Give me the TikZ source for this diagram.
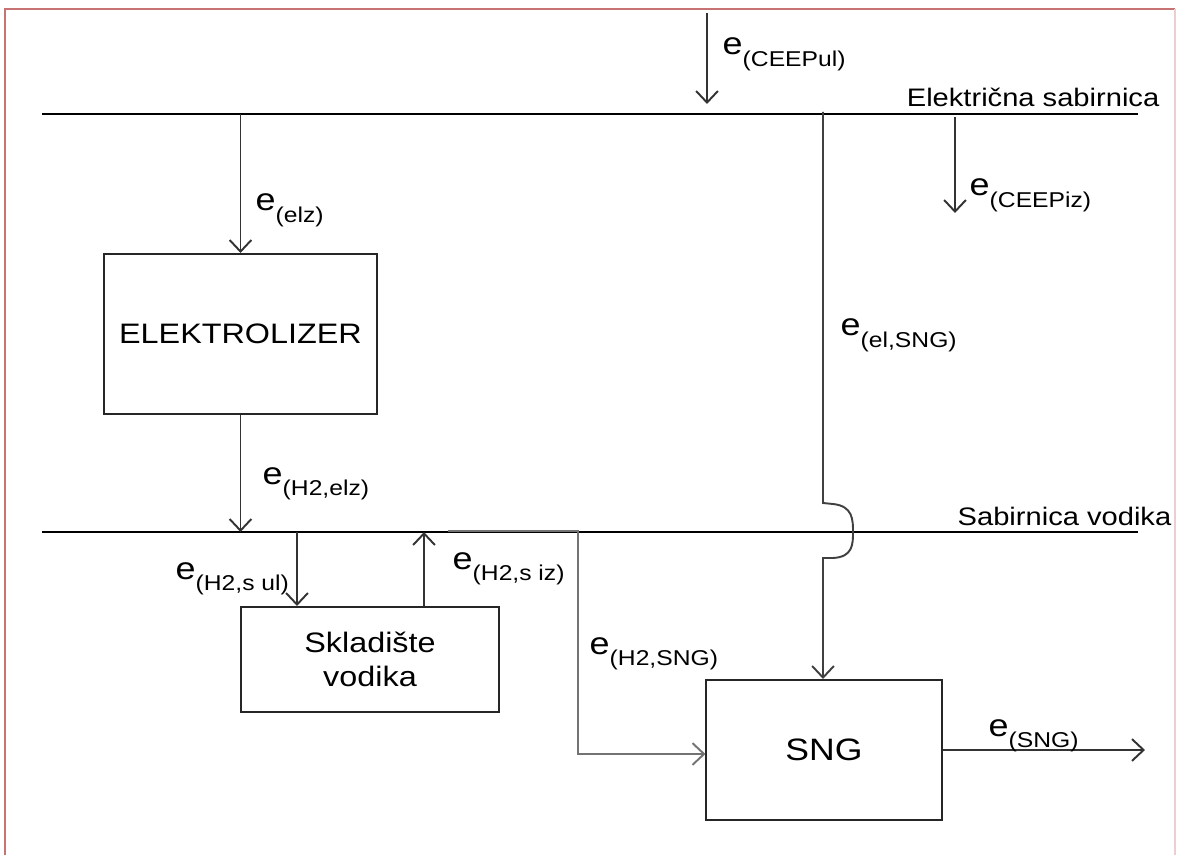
\documentclass[tikz,border=0pt]{standalone}
\usepackage{fontspec}
\setmainfont[FakeStretch=1.15]{Liberation Sans}
\usetikzlibrary{arrows.meta}
\definecolor{framered}{RGB}{200,115,115}
\newcommand{\flow}[1]{{\fontsize{8.9}{10}\selectfont e}\raisebox{-3.3pt}{\fontsize{6.1}{7}\selectfont(#1)}}

\begin{document}
\begin{tikzpicture}[
    x=0.01cm, y=-0.01cm,
    box/.style={draw=black!85, line width=0.55pt, inner sep=0pt, align=center, font=\fontsize{8}{9.6}\selectfont},
    bus/.style={line width=0.8pt},
    arr/.style={-{Straight Barb[length=3.3pt,width=6.2pt]}, line width=0.55pt, draw=black!80},
    lbl/.style={anchor=base west, inner sep=0pt},
    buslbl/.style={anchor=base east, inner sep=0pt, font=\fontsize{7.2}{8}\selectfont}
]
\useasboundingbox (0,0) rectangle (1179,855);
\draw[framered, line width=0.5pt] (5,855) -- (5,9) -- (1175,9);
\draw[framered!35, line width=0.5pt] (1175,9) -- (1175,855);

% sabirnice
\coordinate (el1) at (42,114);
\coordinate (el2) at (1138,114);
\coordinate (h1) at (42,532);
\coordinate (h2) at (1138,532);
\draw[bus] (el1) -- (el2);
\draw[bus] (h1) -- (h2);
\node[buslbl] (elbus) at (1160,107) {Električna sabirnica};
\node[buslbl] (hbus) at (1172,525) {Sabirnica vodika};

% blokovi
\node[box, minimum width=2.73cm, minimum height=1.60cm] (elz) at (240.5,334) {ELEKTROLIZER};
\node[box, minimum width=2.58cm, minimum height=1.05cm] (skl) at (370,659.5) {Skladište\\vodika};
\node[box, minimum width=2.35cm, minimum height=1.40cm, font=\fontsize{8.8}{10}\selectfont] (sng) at (824,750) {SNG};

% tokovi energije
\coordinate (ceepul) at (707,13);
\coordinate (ceepulend) at (707,104);
\coordinate (ceepiz) at (955,117);
\coordinate (ceepizend) at (955,213);
\coordinate (elzin) at (240.5,114);
\coordinate (sul) at (297,532);
\coordinate (siz) at (424,532);
\coordinate (hsng) at (448,531);
\coordinate (hbend) at (578,754);
\coordinate (elsng) at (823,112);
\coordinate (sngout) at (1145,750);

\draw[arr] (ceepul) -- (ceepulend);
\draw[arr] (ceepiz) -- (ceepizend);
\draw[arr] (elzin) -- (elz.north);
\draw[arr] (elz.south) -- (elz.south |- h1);
\draw[arr] (sul) -- (sul |- skl.north);
\draw[arr] (siz |- skl.north) -- (siz);
\draw[arr, draw=black!55] (hsng) -| (hbend) -- (hbend -| sng.west);
\draw[arr, draw=black!75] (elsng) -- (823,503) -- (833,504)
    .. controls (853,506) and (853,520) .. (853,532)
    .. controls (853,544) and (853,557) .. (833,558) -- (823,558) -- (sng.north -| elsng);
\draw[arr] (sng.east) -- (sngout);

\node[lbl] (lceepul) at (722,55) {\flow{CEEPul}};
\node[lbl] (lceepiz) at (969,196) {\flow{CEEPiz}};
\node[lbl] (lelz) at (255,211) {\flow{elz}};
\node[lbl] (lhelz) at (262,484) {\flow{H2,elz}};
\node[lbl] (lelsng) at (840,336) {\flow{el,SNG}};
\node[lbl] (lsul) at (175,579) {\flow{H2,s ul}};
\node[lbl] (lsiz) at (452,569) {\flow{H2,s iz}};
\node[lbl] (lhsng) at (589,654) {\flow{H2,SNG}};
\node[lbl] (lsng) at (988,736) {\flow{SNG}};
\end{tikzpicture}
\end{document}
